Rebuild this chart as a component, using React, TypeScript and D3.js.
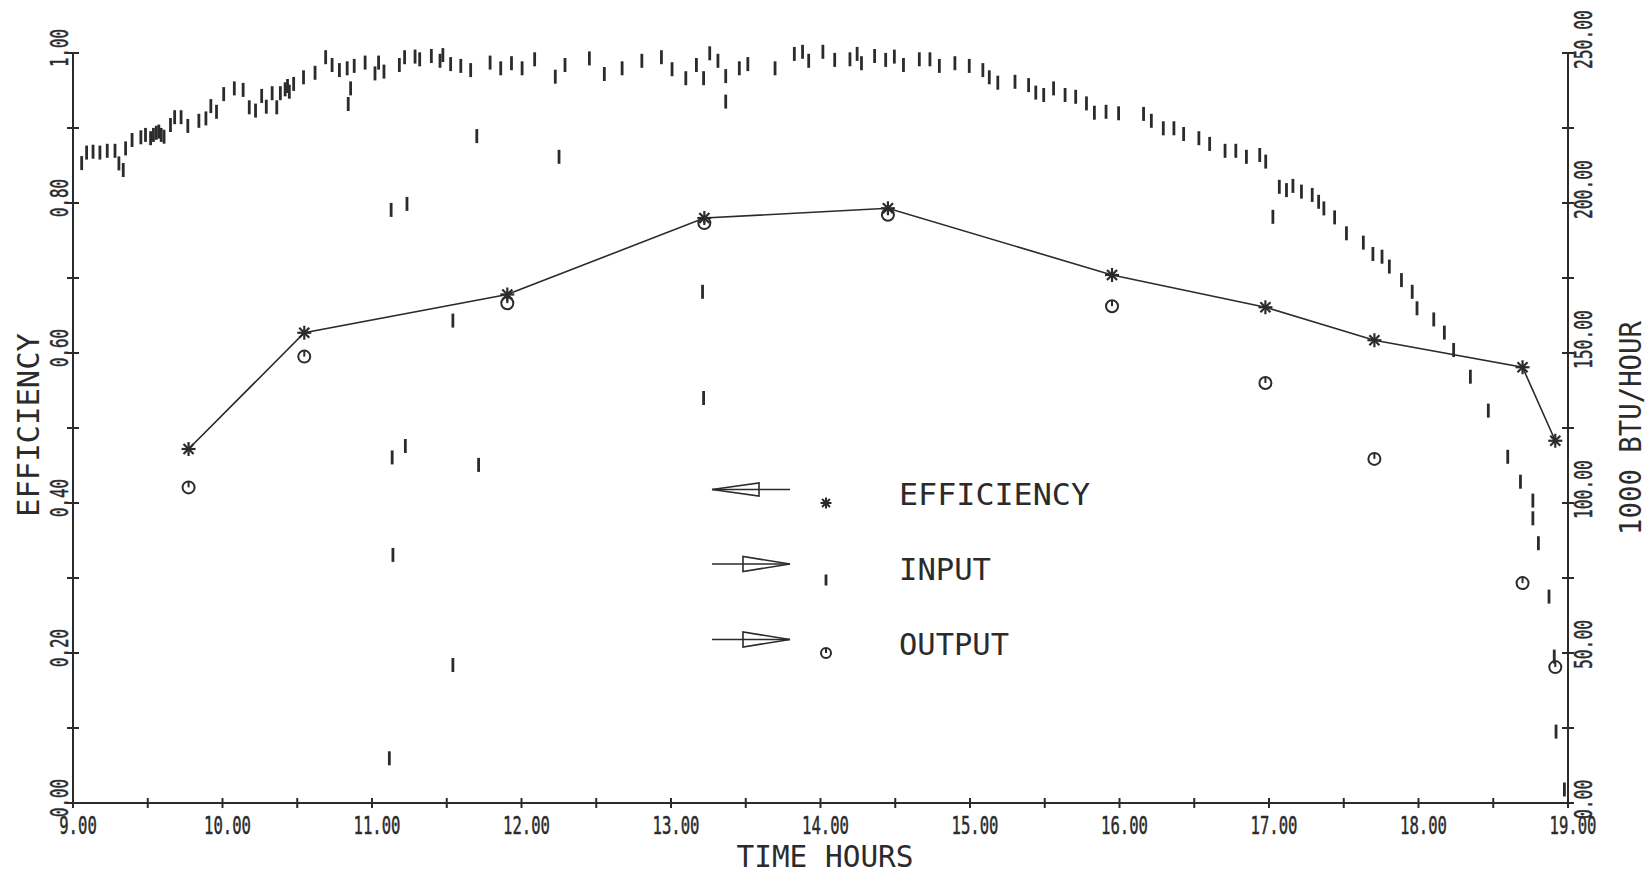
import React from "react";
import * as d3 from "d3";

// ---- data ----
const TIMES = [9.773, 10.547, 11.905, 13.223, 14.451, 15.95, 16.976, 17.705, 18.696, 18.915];
const EFFICIENCY = [0.472, 0.627, 0.678, 0.78, 0.793, 0.704, 0.661, 0.617, 0.581, 0.483];
const OUTPUT = [105.2, 148.8, 166.6, 193.3, 196.1, 165.6, 140.0, 114.7, 73.3, 45.3];

const INPUT_TIMES = [
  9.058, 9.091, 9.134, 9.18, 9.229, 9.281, 9.307, 9.336, 9.352, 9.395, 9.454, 9.485, 9.519, 9.538,
  9.557, 9.574, 9.59, 9.609, 9.652, 9.68, 9.723, 9.768, 9.842, 9.889, 9.922, 9.96, 10.008, 10.079,
  10.138, 10.179, 10.221, 10.262, 10.293, 10.332, 10.363, 10.387, 10.419, 10.435, 10.447, 10.476,
  10.542, 10.619, 10.69, 10.733, 10.782, 10.834, 10.841, 10.857, 10.881, 10.954, 11.02, 11.044,
  11.08, 11.128, 11.183, 11.218, 11.234, 11.288, 11.319, 11.397, 11.455, 11.474, 11.526, 11.594,
  11.66, 11.701, 11.79, 11.861, 11.933, 12.004, 12.088, 12.226, 12.251,
  11.541, 11.135, 11.223, 11.713, 11.14, 11.541, 11.116,
  12.291, 12.454, 12.554, 12.673, 12.805, 12.936, 13.007, 13.099, 13.17, 13.218, 13.259, 13.314,
  13.366, 13.366, 13.457, 13.514, 13.696, 13.825, 13.88, 13.921, 14.016, 14.095, 14.197, 14.245,
  14.274, 14.362, 14.436, 14.494, 14.555, 14.661, 14.732, 14.795, 14.899, 14.995, 15.086, 15.129,
  15.186, 15.301, 15.392, 15.44, 15.493, 15.559, 15.636, 15.707, 15.779, 15.832, 13.211, 13.218,
  15.91, 15.994, 16.161, 16.213, 16.293, 16.364, 16.429, 16.531, 16.603, 16.706, 16.778, 16.849,
  16.938, 16.978, 17.026, 17.069, 17.117, 17.16, 17.217, 17.289, 17.332, 17.367, 17.439, 17.518,
  17.631, 17.695, 17.756, 17.805, 17.886, 17.958,
  17.99, 18.102, 18.173, 18.235, 18.347, 18.467, 18.597, 18.682, 18.765, 18.765, 18.802,
  18.873, 18.908, 18.92, 18.976,
];
const INPUT_VALUES = [
  213.3, 216.8, 217.1, 216.8, 217.4, 217.4, 213.2, 211.0, 218.2, 221.0, 221.9, 222.7, 221.6, 222.7,
  223.4, 223.8, 222.7, 222.1, 226.0, 228.6, 228.6, 225.7, 227.4, 228.2, 232.3, 230.4, 236.3, 238.2,
  237.7, 231.9, 230.8, 235.7, 232.1, 236.6, 231.9, 236.6, 237.9, 239.0, 237.1, 239.7,
  241.9, 243.4, 248.6, 246.0, 244.3, 244.9, 233.0, 238.2, 245.7, 246.8, 243.2, 246.8,
  243.8, 197.7, 246.0, 248.6, 199.7, 248.8, 247.9, 249.0, 247.4, 249.3, 246.3, 245.7,
  244.3, 222.3, 246.8, 244.9, 246.6, 244.9, 247.9, 242.1, 215.4,
  160.8, 115.2, 119.0, 112.7, 82.7, 46.0, 14.9,
  246.0, 248.2, 243.0, 244.9, 247.4, 248.6, 244.6, 241.6, 246.0, 241.6, 249.9, 247.4,
  242.3, 233.8, 244.9, 246.3, 244.9, 249.7, 250.4, 247.4, 250.4, 247.7, 247.9, 249.7,
  246.6, 249.0, 247.7, 248.8, 246.0, 247.9, 247.9, 245.7, 246.6, 245.7, 244.3, 241.9,
  240.1, 240.4, 239.3, 236.8, 236.0, 238.2, 236.0, 235.4, 233.2, 230.1, 170.4, 135.0,
  230.4, 229.9, 229.7, 227.4, 224.9, 224.9, 223.0, 221.6, 219.7, 217.4, 217.4, 215.4,
  216.0, 213.8, 195.4, 205.4, 204.3, 205.7, 203.8, 202.7, 200.4, 198.2, 195.2, 189.9,
  186.8, 183.0, 182.1, 178.8, 174.3, 170.4,
  164.9, 161.2, 156.8, 151.0, 142.1, 130.8, 115.4, 107.1, 100.8, 94.9, 86.6,
  68.8, 48.8, 23.8, 4.5,
];

const X_TICKS = d3.range(9, 19.001, 0.5);
const X_LABELS = [9, 10, 11, 12, 13, 14, 15, 16, 17, 18, 19];
const EFF_TICKS = d3.range(0, 1.001, 0.1);
const EFF_LABELS = [0, 0.2, 0.4, 0.6, 0.8, 1.0];
const BTU_TICKS = d3.range(0, 250.001, 25);
const BTU_LABELS = [0, 50, 100, 150, 200, 250];

const LEGEND = ["EFFICIENCY", "INPUT", "OUTPUT"];

// ---- layout ----
const W = 1650;
const H = 874;
const INK = "#2b2b2b";
const MONO = "'DejaVu Sans Mono', monospace";

const x = d3.scaleLinear().domain([9, 19]).range([73, 1568]);
const yEff = d3.scaleLinear().domain([0, 1]).range([803, 53]);
const yBtu = d3.scaleLinear().domain([0, 250]).range([803, 53]);

const fmt = d3.format(".2f");

function Star({ cx, cy, r = 7, w = 2.2 }: { cx: number; cy: number; r?: number; w?: number }) {
  const d = r * 0.72;
  return (
    <g stroke={INK} strokeWidth={w}>
      <line x1={cx - r} y1={cy} x2={cx + r} y2={cy} />
      <line x1={cx} y1={cy - r} x2={cx} y2={cy + r} />
      <line x1={cx - d} y1={cy - d} x2={cx + d} y2={cy + d} />
      <line x1={cx - d} y1={cy + d} x2={cx + d} y2={cy - d} />
    </g>
  );
}

function Ring({ cx, cy, r = 6 }: { cx: number; cy: number; r?: number }) {
  return (
    <g stroke={INK} strokeWidth={2} fill="none">
      <circle cx={cx} cy={cy} r={r} />
      <line x1={cx} y1={cy - r} x2={cx} y2={cy} />
    </g>
  );
}

function Dash({ cx, cy, len = 14 }: { cx: number; cy: number; len?: number }) {
  return <line x1={cx} y1={cy - len / 2} x2={cx} y2={cy + len / 2} stroke={INK} strokeWidth={2.8} />;
}

export default function App() {
  const effLine = d3
    .line<number>()
    .x((_, i) => x(TIMES[i]))
    .y((d) => yEff(d));

  const x0 = x(9);
  const x1 = x(19);
  const yb = yEff(0);
  const yt = yEff(1);

  const legendX1 = 712;
  const legendX2 = 790;
  const legendRows = [489.5, 564, 639.5];
  const legendBaselines = [505, 580, 655];
  const legendLens = [191, 92, 110];

  return (
    <svg
      width={W}
      height={H}
      viewBox={`0 0 ${W} ${H}`}
      style={{ position: "absolute", left: 0, top: 0, background: "#fff" }}
    >
      <rect width={W} height={H} fill="#fff" />
      {/* axes */}
      <g stroke={INK} strokeWidth={2} fill="none">
        <line x1={x0} y1={yb} x2={x0} y2={yt} />
        <line x1={x0} y1={yb} x2={x1} y2={yb} />
        <line x1={x1} y1={yb} x2={x1} y2={yBtu(250)} />
        {X_TICKS.map((t) => (
          <line key={"xt" + t} x1={x(t)} x2={x(t)} y1={yb - 5} y2={yb + 5} />
        ))}
        {EFF_TICKS.map((t) => (
          <line key={"ye" + t} x1={x0 - 6} x2={x0 + 6} y1={yEff(t)} y2={yEff(t)} />
        ))}
        {BTU_TICKS.map((t) => (
          <line key={"yb" + t} x1={x1 - 6} x2={x1 + 6} y1={yBtu(t)} y2={yBtu(t)} />
        ))}
      </g>

      {/* tick labels */}
      <g fill={INK} stroke={INK} strokeWidth={0.5} fontFamily={MONO} fontSize={25}>
        {X_LABELS.map((t) => {
          const s = fmt(t);
          return (
            <text
              key={"xl" + t}
              x={x(t) + 5}
              y={834}
              textAnchor="middle"
              textLength={s.length * 9.4}
              lengthAdjust="spacingAndGlyphs"
            >
              {s}
            </text>
          );
        })}
        {EFF_LABELS.map((t) => {
          const s = fmt(t);
          return (
            <text
              key={"el" + t}
              transform={`translate(68,${yEff(t) + 14}) rotate(-90)`}
              textAnchor="start"
              textLength={s.length * 9.5}
              lengthAdjust="spacingAndGlyphs"
            >
              {s}
            </text>
          );
        })}
        {BTU_LABELS.map((t) => {
          const s = fmt(t);
          return (
            <text
              key={"bl" + t}
              transform={`translate(1592,${yBtu(t) + 16}) rotate(-90)`}
              textAnchor="start"
              textLength={s.length * 9.8}
              lengthAdjust="spacingAndGlyphs"
            >
              {s}
            </text>
          );
        })}
      </g>

      {/* axis titles */}
      <g fill={INK} fontFamily={MONO} fontSize={31}>
        <text x={825} y={867} textAnchor="middle" textLength={177} lengthAdjust="spacingAndGlyphs">
          TIME HOURS
        </text>
        <text
          transform="translate(39,425) rotate(-90)"
          textAnchor="middle"
          textLength={184}
          lengthAdjust="spacingAndGlyphs"
        >
          EFFICIENCY
        </text>
        <text
          transform="translate(1641,428) rotate(-90)"
          textAnchor="middle"
          textLength={214}
          lengthAdjust="spacingAndGlyphs"
        >
          1000 BTU/HOUR
        </text>
      </g>

      {/* input marks */}
      {INPUT_TIMES.map((t, i) => (
        <Dash key={"in" + i} cx={x(t)} cy={yBtu(INPUT_VALUES[i])} />
      ))}

      {/* efficiency line and stars */}
      <path d={effLine(EFFICIENCY) || ""} fill="none" stroke={INK} strokeWidth={1.6} />
      {EFFICIENCY.map((e, i) => (
        <Star key={"ef" + i} cx={x(TIMES[i])} cy={yEff(e)} />
      ))}

      {/* output rings */}
      {OUTPUT.map((o, i) => (
        <Ring key={"out" + i} cx={x(TIMES[i])} cy={yBtu(o)} />
      ))}

      {/* legend */}
      <g stroke={INK} strokeWidth={1.6} fill="none">
        <line x1={legendX1} y1={legendRows[0]} x2={legendX2} y2={legendRows[0]} />
        <path
          d={`M${legendX1},${legendRows[0]} L759,${legendRows[0] - 6.5} L759,${legendRows[0] + 6.5} Z`}
        />
        <line x1={legendX1} y1={legendRows[1]} x2={legendX2} y2={legendRows[1]} />
        <path
          d={`M${legendX2},${legendRows[1]} L743,${legendRows[1] - 7.5} L743,${legendRows[1] + 7.5} Z`}
        />
        <line x1={legendX1} y1={legendRows[2]} x2={legendX2} y2={legendRows[2]} />
        <path
          d={`M${legendX2},${legendRows[2]} L743,${legendRows[2] - 7.5} L743,${legendRows[2] + 7.5} Z`}
        />
      </g>
      <Star cx={826} cy={503} r={5.5} w={2} />
      <Dash cx={826} cy={580} len={11} />
      <Ring cx={826} cy={653} r={5} />
      <g fill={INK} fontFamily={MONO} fontSize={31}>
        {LEGEND.map((s, i) => (
          <text
            key={s}
            x={899}
            y={legendBaselines[i]}
            textLength={legendLens[i]}
            lengthAdjust="spacingAndGlyphs"
          >
            {s}
          </text>
        ))}
      </g>
    </svg>
  );
}
